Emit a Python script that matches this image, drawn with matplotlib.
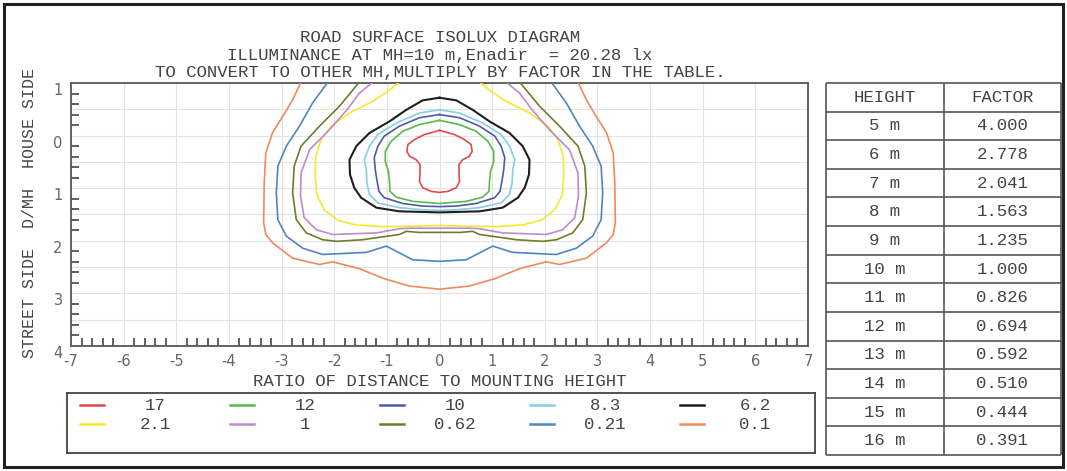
import numpy as np
import matplotlib
matplotlib.use("Agg")
import matplotlib.pyplot as plt
from matplotlib.ticker import MultipleLocator, FixedLocator
from matplotlib.patches import Rectangle

plt.rcParams["axes.unicode_minus"] = False

MONO = "Liberation Mono"
TXT = "#444444"

# ---------------- Data ----------------
# isolux levels (lx at MH = 10 m) and colours
LEVELS = ["17", "12", "10", "8.3", "6.2", "2.1", "1", "0.62", "0.21", "0.1"]
COLORS = ["#e5484d", "#5cb84a", "#4a5ca8", "#86cde8", "#1e1e1e",
          "#f2ea2e", "#c08ad0", "#6e7d2c", "#4f86c2", "#f08a5d"]

# right half of each isoline (x = D/MH across, y = D/MH along, + = street side)
# the diagram is symmetric about x = 0
HALF_X = {
    "17":   [0, 0.285, 0.475, 0.60, 0.62, 0.57, 0.44, 0.37, 0.37, 0.38, 0.32, 0.16, 0],
    "12":   [0, 0.38, 0.70, 0.92, 1.03, 1.03, 0.97, 0.95, 0.94, 0.82, 0.51, 0],
    "10":   [0, 0.38, 0.76, 1.05, 1.17, 1.24, 1.22, 1.19, 1.15, 1.05, 0.70, 0.32, 0],
    "8.3":  [0, 0.38, 0.82, 1.17, 1.33, 1.43, 1.39, 1.38, 1.33, 1.17, 0.76, 0.32, 0],
    "6.2":  [0, 0.32, 0.63, 0.95, 1.33, 1.58, 1.71, 1.70, 1.62, 1.49, 1.20, 0.76, 0],
    "2.1":  [0.76, 0.98, 1.27, 1.71, 2.06, 2.25, 2.35, 2.36, 2.33, 2.19, 1.93, 1.58,
             1.39, 1.08, 0.44, 0],
    "1":    [1.26, 1.52, 1.75, 2.09, 2.47, 2.63, 2.64, 2.57, 2.34, 2.03, 1.20, 0.76,
             0.55, 0],
    "0.62": [1.52, 1.90, 2.28, 2.63, 2.76, 2.79, 2.72, 2.53, 2.22, 1.96, 1.46, 1.33,
             0.76, 0.63, 0.40, 0],
    "0.21": [2.12, 2.41, 2.66, 2.91, 3.07, 3.10, 3.07, 2.91, 2.60, 2.22, 1.80, 1.39,
             1.01, 0.76, 0.51, 0],
    "0.1":  [2.63, 2.79, 2.98, 3.17, 3.30, 3.33, 3.34, 3.30, 3.17, 2.79, 2.28, 2.03,
             1.52, 1.05, 0.57, 0],
}
HALF_Y = {
    "17":   [-0.10, -0.02, 0.076, 0.17, 0.30, 0.39, 0.46, 0.55, 0.71, 0.87, 0.99, 1.06, 1.08],
    "12":   [-0.29, -0.21, -0.08, 0.11, 0.30, 0.49, 0.68, 0.87, 1.06, 1.17, 1.25, 1.29],
    "10":   [-0.40, -0.34, -0.18, 0.01, 0.20, 0.42, 0.65, 0.84, 1.06, 1.18, 1.29, 1.34, 1.35],
    "8.3":  [-0.49, -0.43, -0.24, -0.02, 0.20, 0.46, 0.65, 0.90, 1.12, 1.28, 1.37, 1.41, 1.42],
    "6.2":  [-0.72, -0.67, -0.49, -0.27, -0.05, 0.20, 0.46, 0.74, 0.99, 1.18, 1.37, 1.44, 1.46],
    "2.1":  [-1.02, -0.84, -0.65, -0.43, -0.18, 0.08, 0.39, 0.77, 1.13, 1.41, 1.61, 1.70,
             1.71, 1.73, 1.72, 1.71],
    "1":    [-1.02, -0.81, -0.50, -0.11, 0.27, 0.71, 1.15, 1.56, 1.79, 1.88, 1.85, 1.77,
             1.76, 1.76],
    "0.62": [-1.02, -0.56, -0.18, 0.20, 0.58, 1.09, 1.60, 1.85, 1.98, 2.01, 1.98, 1.96,
             1.88, 1.82, 1.84, 1.84],
    "0.21": [-1.02, -0.62, -0.18, 0.20, 0.58, 1.09, 1.60, 1.91, 2.14, 2.26, 2.24, 2.22,
             2.10, 2.23, 2.36, 2.39],
    "0.1":  [-1.02, -0.68, -0.36, -0.06, 0.33, 0.90, 1.66, 1.88, 2.04, 2.33, 2.45, 2.40,
             2.53, 2.72, 2.86, 2.92],
}

# conversion table
HEIGHTS = ["5 m", "6 m", "7 m", "8 m", "9 m", "10 m", "11 m", "12 m",
           "13 m", "14 m", "15 m", "16 m"]
FACTORS = ["4.000", "2.778", "2.041", "1.563", "1.235", "1.000", "0.826",
           "0.694", "0.592", "0.510", "0.444", "0.391"]

TITLE = ["ROAD SURFACE ISOLUX DIAGRAM",
         "ILLUMINANCE AT MH=10 m,Enadir  = 20.28 lx",
         "TO CONVERT TO OTHER MH,MULTIPLY BY FACTOR IN THE TABLE."]

# ---------------- Layout ----------------
W, H = 1067, 471
fig = plt.figure(figsize=(W / 100, H / 100), dpi=100)


def px_rect(l, t, r, b):
    return [l / W, 1 - b / H, (r - l) / W, (b - t) / H]


# outer frame
fig.add_artist(Rectangle((4 / W, 4 / H), 1059 / W, 463 / H, transform=fig.transFigure,
                         fill=False, edgecolor="#222222", linewidth=2.2))

# ---------------- Isolux plot ----------------
ax = fig.add_axes(px_rect(71, 83, 808, 346))
ax.set_xlim(-7, 7)
ax.set_ylim(4, -1)

for v in range(-6, 7):
    ax.axvline(v, color="#e3e3e3", linewidth=0.8, zorder=0)
for v in np.arange(-0.5, 4.0, 0.5):
    ax.axhline(v, color="#e3e3e3", linewidth=0.8, zorder=0)

for lev, col in zip(LEVELS, COLORS):
    hx = np.array(HALF_X[lev])
    hy = np.array(HALF_Y[lev])
    xs = np.concatenate([hx, -hx[::-1]])
    ys = np.concatenate([hy, hy[::-1]])
    lw = 1.5 if lev == "6.2" else 1.2
    ax.plot(xs, ys, color=col, linewidth=lw, solid_joinstyle="round", zorder=3)

for s in ax.spines.values():
    s.set_color("#555555")
    s.set_linewidth(1.3)

ax.xaxis.set_major_locator(FixedLocator(range(-7, 8)))
ax.yaxis.set_major_locator(FixedLocator(range(-1, 5)))
ax.xaxis.set_minor_locator(MultipleLocator(0.2))
ax.yaxis.set_minor_locator(MultipleLocator(0.2))
ax.set_xticklabels([str(v) for v in range(-7, 8)])
ax.set_yticklabels([str(abs(v)) for v in range(-1, 5)])
ax.tick_params(which="major", length=0, labelsize=10.5, labelcolor="#666666", pad=6)
ax.tick_params(which="minor", direction="in", length=5.5, width=1.1, color="#333333")
for lbl in ax.get_yticklabels():
    lbl.set_va("top")

# titles and axis labels
for i, line in enumerate(TITLE):
    fig.text(440 / W, 1 - (38 + 17.5 * i) / H, line, ha="center", va="center",
             family=MONO, fontsize=12.5, color=TXT)
fig.text(440 / W, 1 - 381 / H, "RATIO OF DISTANCE TO MOUNTING HEIGHT", ha="center",
         va="center", family=MONO, fontsize=12.5, color=TXT)
fig.text(30 / W, 1 - 213 / H, "STREET SIDE  D/MH  HOUSE SIDE", ha="center", va="center",
         rotation=90, family=MONO, fontsize=12, color=TXT)

# ---------------- Legend ----------------
lg = fig.add_axes(px_rect(67, 393, 815, 453))
lg.set_xlim(0, 1)
lg.set_ylim(0, 1)
lg.set_xticks([])
lg.set_yticks([])
for s in lg.spines.values():
    s.set_color("#444444")
    s.set_linewidth(1.3)
col_w = 150 / 748
for i, (lev, col) in enumerate(zip(LEVELS, COLORS)):
    r, c = divmod(i, 5)
    yy = 0.80 - r * 0.32
    x0 = 13 / 748 + c * col_w
    lg.plot([x0, x0 + 24 / 748], [yy, yy], color=col, linewidth=1.8)
    lg.text(x0 + 75 / 748, yy, lev, ha="center", va="center", family=MONO,
            fontsize=12.5, color=TXT)

# ---------------- Factor table ----------------
tb = fig.add_axes(px_rect(826, 83, 1061, 455))
n_rows = len(HEIGHTS) + 1
tb.set_xlim(0, 2)
tb.set_ylim(n_rows, 0)
tb.axis("off")
tb.hlines(np.arange(n_rows + 1), 0, 2, color="#555555", linewidth=1.2, clip_on=False)
tb.vlines([0, 1, 2], 0, n_rows, color="#555555", linewidth=1.2, clip_on=False)
tb.text(0.5, 0.5, "HEIGHT", ha="center", va="center", family=MONO, fontsize=12.5, color=TXT)
tb.text(1.5, 0.5, "FACTOR", ha="center", va="center", family=MONO, fontsize=12.5, color=TXT)
for i, (h, f) in enumerate(zip(HEIGHTS, FACTORS)):
    tb.text(0.5, i + 1.5, h, ha="center", va="center", family=MONO, fontsize=12.5, color=TXT)
    tb.text(1.5, i + 1.5, f, ha="center", va="center", family=MONO, fontsize=12.5, color=TXT)

fig.savefig("out.png", dpi=100)
